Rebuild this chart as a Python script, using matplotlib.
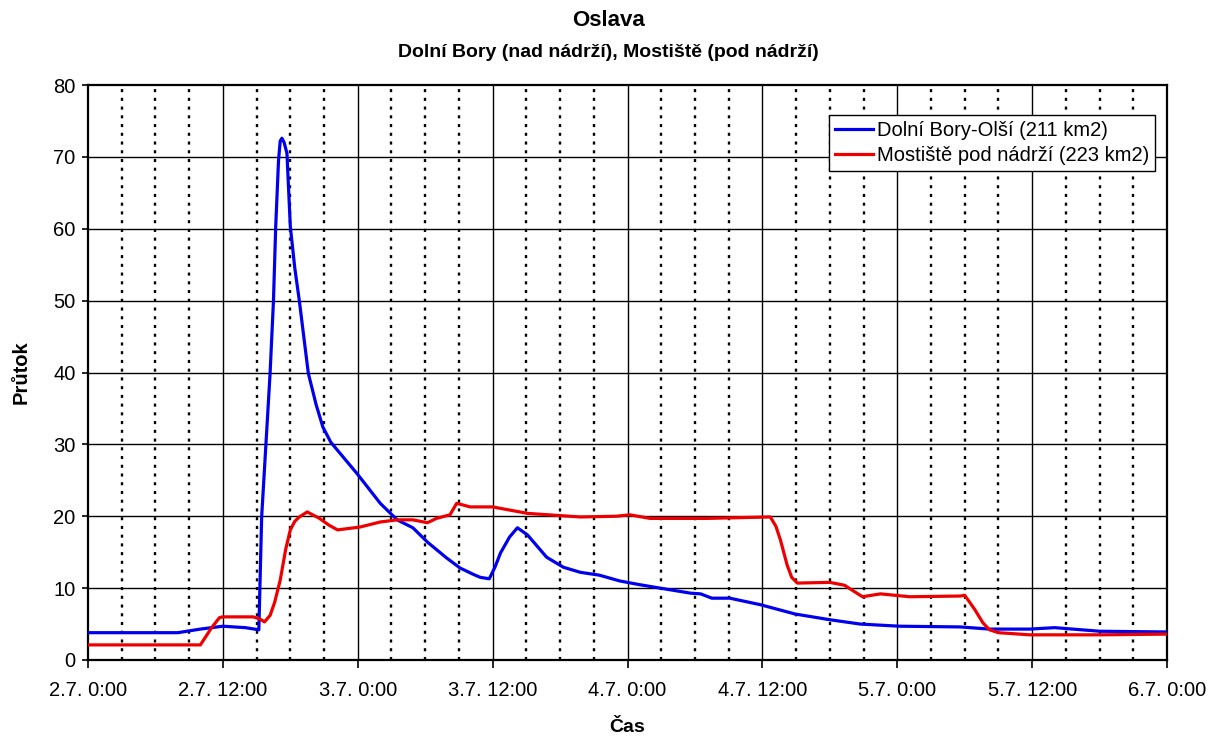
import matplotlib.pyplot as plt
from matplotlib.ticker import MultipleLocator

plt.rcParams['font.family'] = ['Liberation Sans', 'DejaVu Sans']

# hodiny od 2.7. 0:00
t_bory = [0, 4, 8, 10, 12, 14, 15.2, 15.45, 16.2, 16.5, 16.7, 16.95, 17.1, 17.25, 17.45, 17.7,
          18.0, 18.4, 18.8, 19.6, 20.3, 20.9, 21.6, 22.4, 23.9, 26, 27.5, 28.9, 30.2, 31.9,
          33.1, 34.3, 34.9, 35.7, 36.2, 36.7, 37.5, 38.2, 39.1, 40.8, 42.3, 43.8, 45.5, 47.3,
          49, 50.9, 53.6, 54.5, 55.5, 57.1, 58, 59.8, 62.9, 66, 68.7, 72.2, 77.6, 80.2, 83.8,
          86, 90, 96]
q_bory = [3.8, 3.8, 3.8, 4.3, 4.7, 4.5, 4.2, 19.9, 39.9, 50, 60.3, 69.5, 72.2, 72.6, 72.0, 70.5,
          60.3, 54.5, 50, 39.9, 35.5, 32.4, 30.3, 28.8, 26, 21.8, 19.5, 18.4, 16.4, 14.2,
          12.8, 11.9, 11.5, 11.3, 12.9, 14.9, 17.1, 18.4, 17.4, 14.3, 12.9, 12.2, 11.8, 11,
          10.5, 10, 9.3, 9.2, 8.6, 8.6, 8.3, 7.7, 6.4, 5.6, 5.0, 4.7, 4.6, 4.3, 4.3,
          4.5, 4.0, 3.9]

t_most = [0, 9.5, 10, 11, 11.7, 12, 14.7, 15.3, 15.7, 16.2, 16.6, 17.1, 17.6, 18, 18.4, 18.8,
          19.5, 20.6, 21.4, 22.2, 24.2, 26, 27.5, 28.9, 30.2, 31, 32.2, 32.8, 34, 36, 39.1,
          43.8, 47, 48.2, 50, 55, 60.7, 61.2, 61.6, 62.2, 62.6, 63.1, 66, 67.3, 68.9, 70.5,
          73.1, 77.6, 78, 78.9, 79.6, 80.2, 81, 83.8, 90, 96]
q_most = [2.1, 2.1, 2.1, 4.5, 5.9, 6.0, 6.0, 5.7, 5.3, 6.2, 8.0, 11.1, 15.5, 18.1, 19.3, 19.9,
          20.6, 19.7, 18.8, 18.1, 18.5, 19.2, 19.5, 19.5, 19.1, 19.7, 20.2, 21.8, 21.3, 21.3, 20.4,
          19.9, 20, 20.2, 19.7, 19.7, 19.9, 18.6, 16.7, 13.2, 11.5, 10.7, 10.8, 10.4, 8.8, 9.2,
          8.8, 8.9, 9.0, 7, 5.2, 4.2, 3.8, 3.5, 3.5, 3.6]

tick_labels = ["2.7. 0:00", "2.7. 12:00", "3.7. 0:00", "3.7. 12:00", "4.7. 0:00",
               "4.7. 12:00", "5.7. 0:00", "5.7. 12:00", "6.7. 0:00"]

fig = plt.figure(figsize=(12.17, 7.38), dpi=100)
ax = fig.add_axes([0.0723, 0.1057, 0.8867, 0.7791])

# mrizka
for h in range(3, 96, 3):
    if h % 12 == 0:
        ax.axvline(h, color='black', lw=1.0, zorder=1)
    else:
        ax.axvline(h, color='black', lw=1.7, linestyle=(0, (1.3, 2.4)), zorder=1)
for v in range(10, 80, 10):
    ax.axhline(v, color='black', lw=1.0, zorder=1)

ax.plot(t_bory, q_bory, color='#0000ee', lw=2.3, label='Dolní Bory-Olší (211 km2)', zorder=3)
ax.plot(t_most, q_most, color='#ee0000', lw=2.3, label='Mostiště pod nádrží (223 km2)', zorder=3)

ax.set_xlim(0, 96)
ax.set_ylim(0, 80)
ax.set_xticks(range(0, 97, 12))
ax.set_xticklabels(tick_labels)
ax.yaxis.set_major_locator(MultipleLocator(10))
ax.tick_params(axis='both', direction='out', labelsize=14.5, color='black', width=1.2)
ax.tick_params(axis='x', length=6, pad=9)
ax.tick_params(axis='y', length=4, pad=5)
for s in ax.spines.values():
    s.set_linewidth(1.6)

ax.set_xlabel('Čas', fontsize=14, fontweight='bold', labelpad=14)
ax.set_ylabel('Průtok', fontsize=14.5, fontweight='bold', labelpad=16)

fig.text(0.5, 0.972, 'Oslava', ha='center', va='center', fontsize=16, fontweight='bold')
fig.text(0.5, 0.929, 'Dolní Bory (nad nádrží), Mostiště (pod nádrží)', ha='center', va='center',
         fontsize=14, fontweight='bold')

leg = ax.legend(loc='upper right', bbox_to_anchor=(0.989, 0.948), fontsize=14.5, fancybox=False,
                framealpha=1, edgecolor='black', handlelength=1.9, handletextpad=0.2,
                borderpad=0.3, labelspacing=0.3, borderaxespad=0)
leg.get_frame().set_linewidth(1.0)

plt.savefig('out.png', dpi=100)
